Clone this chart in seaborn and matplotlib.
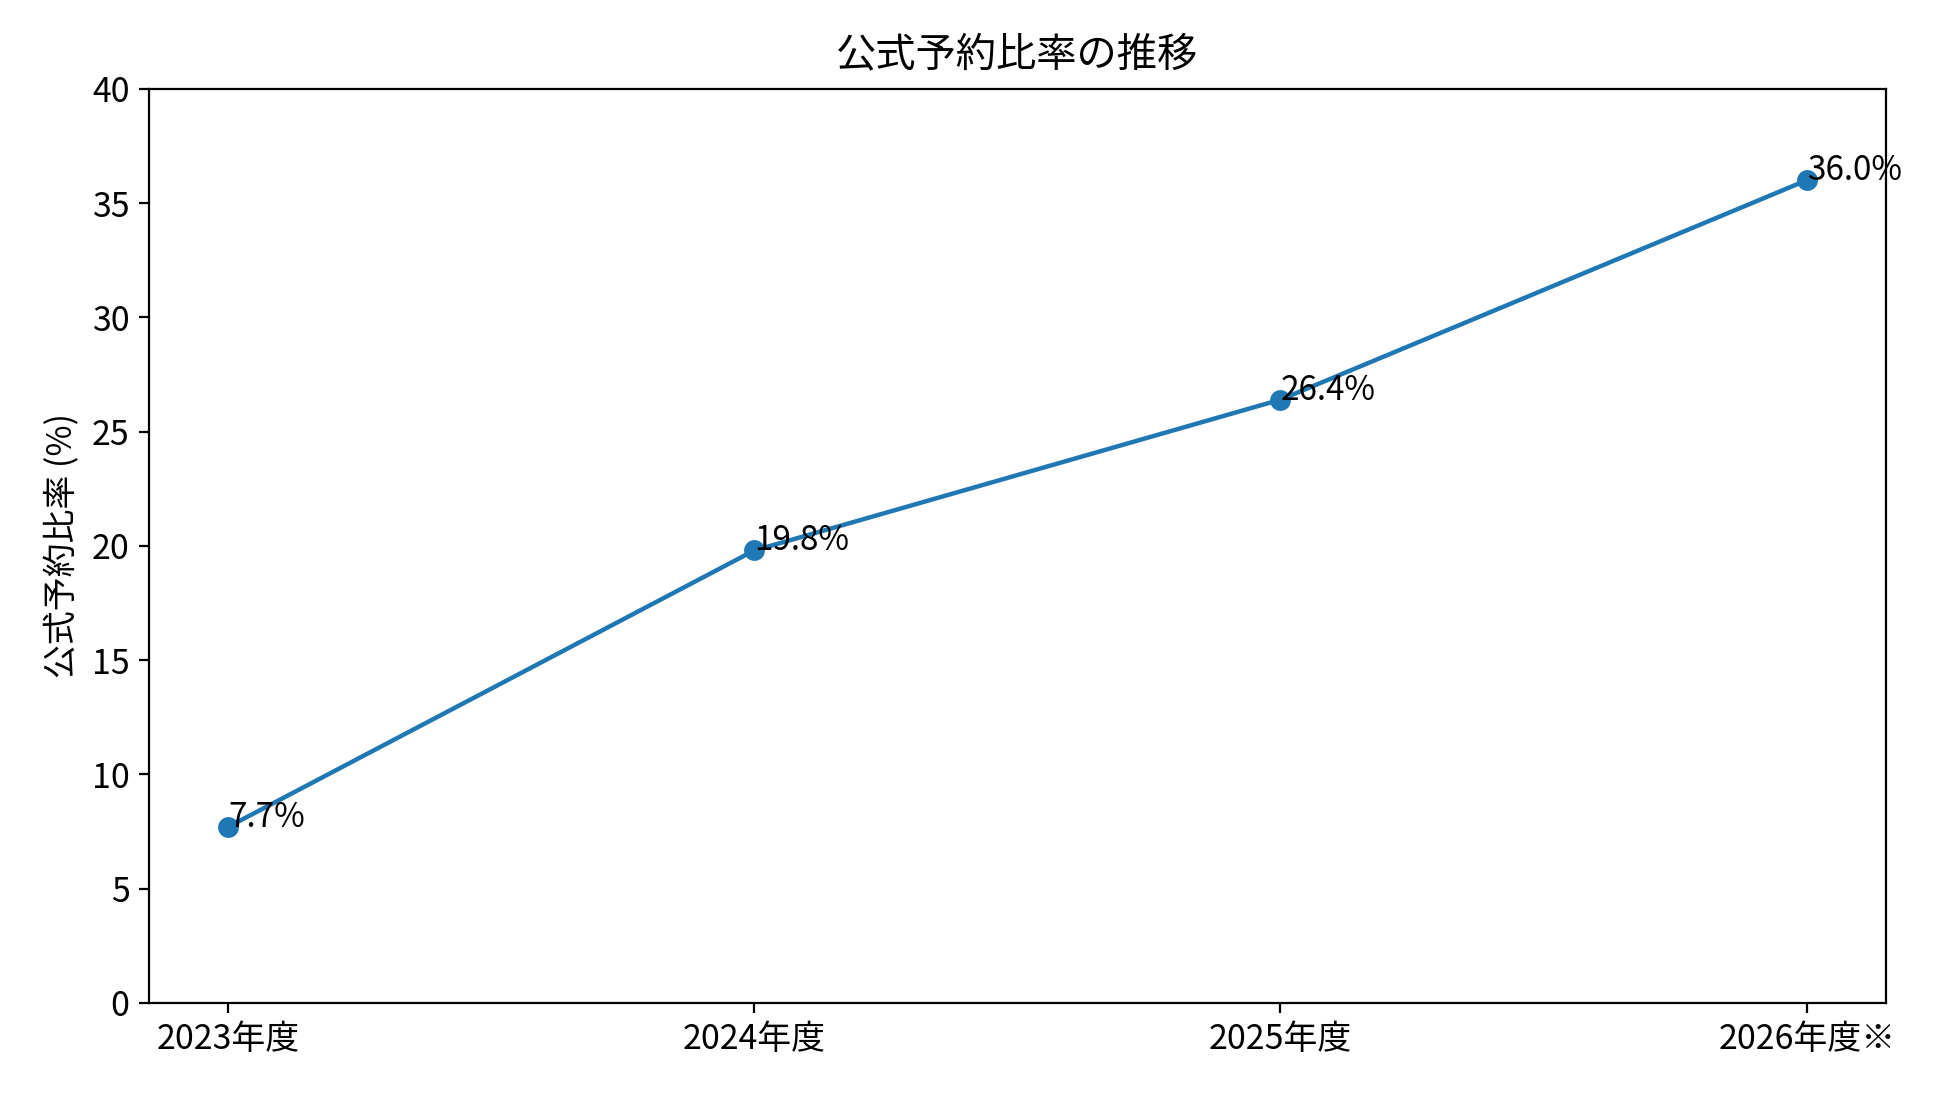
import matplotlib
matplotlib.use("Agg")
import matplotlib.pyplot as plt
import seaborn as sns
import pandas as pd

years = ["2023年度", "2024年度", "2025年度", "2026年度※"]
ratios = [7.7, 19.8, 26.4, 36.0]

sns.set_style("ticks")
plt.rcParams['font.family'] = ['Noto Sans CJK JP', 'DejaVu Sans']
plt.rcParams['text.color'] = 'black'
plt.rcParams['axes.labelcolor'] = 'black'
plt.rcParams['xtick.color'] = 'black'
plt.rcParams['ytick.color'] = 'black'

df = pd.DataFrame({"idx": range(len(years)), "ratio": ratios})

fig, ax = plt.subplots(figsize=(9.75, 5.485), dpi=200)
sns.lineplot(data=df, x="idx", y="ratio", marker="o", color="#1f77b4",
             linewidth=1.6, markersize=7.5, markeredgewidth=0, ax=ax)
for i, v in zip(df["idx"], df["ratio"]):
    ax.text(i, v, f"{v:.1f}%", ha="left", va="baseline", fontsize=12, color="black")

ax.set_xticks(list(df["idx"]))
ax.set_xticklabels(years)
ax.set_ylim(0, 40)
ax.set_xlim(-0.15, 3.15)
ax.set_xlabel("")
ax.set_ylabel("公式予約比率 (%)", fontsize=12.2)
ax.set_title("公式予約比率の推移", fontsize=14.5, pad=8)
ax.tick_params(labelsize=12.2, colors="black")
for s in ax.spines.values():
    s.set_visible(True)
    s.set_linewidth(0.8)
    s.set_color("black")
fig.subplots_adjust(left=0.0764, right=0.967, top=0.919, bottom=0.0857)
fig.savefig("out.png", dpi=200)
